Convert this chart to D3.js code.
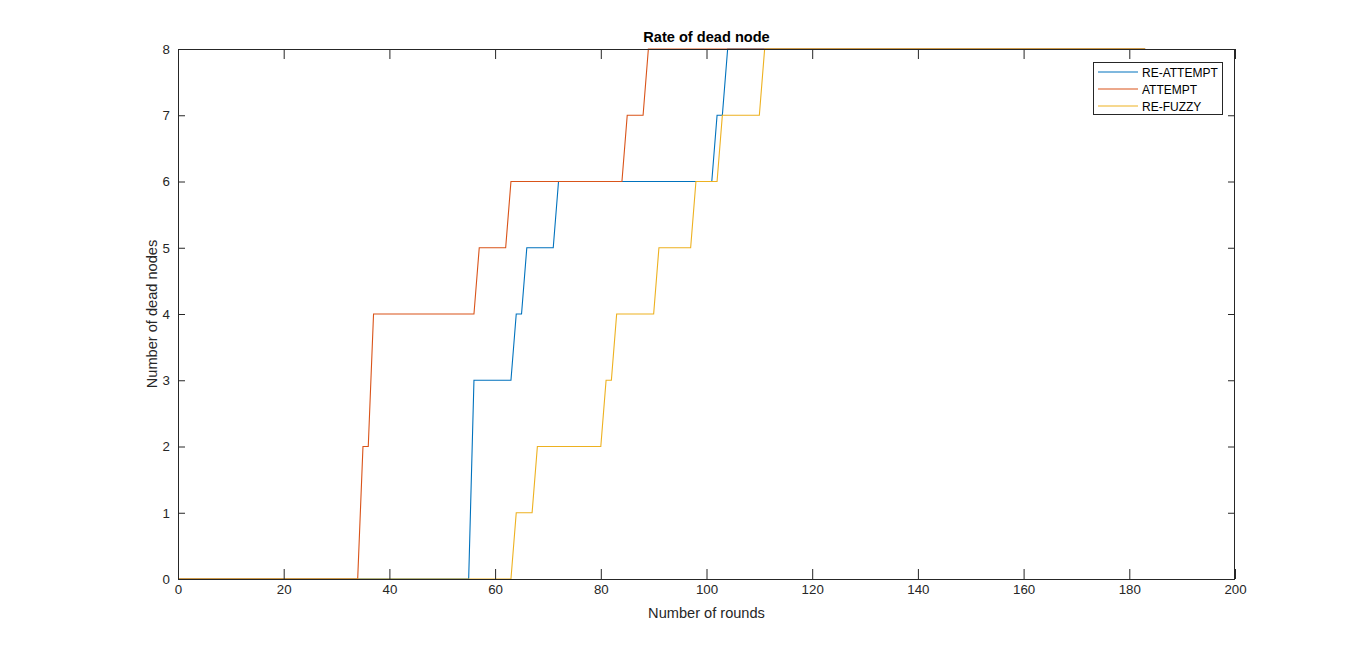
<!DOCTYPE html>
<html>
<head>
<meta charset="utf-8">
<script src="https://cdn.jsdelivr.net/npm/d3@7"></script>
<style>
  html, body { margin: 0; padding: 0; background: #fff; }
  svg { display: block; font-family: Arial, "Liberation Sans", Helvetica, sans-serif; }
</style>
</head>
<body>
<svg id="chart" width="1366" height="651"></svg>
<script>
// ---- Data (breakpoints of each step curve: round -> dead nodes) ----
const seriesNames = ["RE-ATTEMPT", "ATTEMPT", "RE-FUZZY"];
const reAttemptRounds = [0, 55, 56, 63, 64, 65, 66, 71, 72, 101, 102, 103, 104, 183];
const reAttemptValues = [0, 0, 3, 3, 4, 4, 5, 5, 6, 6, 7, 7, 8, 8];
const attemptRounds = [0, 34, 35, 36, 37, 56, 57, 62, 63, 84, 85, 88, 89, 183];
const attemptValues = [0, 0, 2, 2, 4, 4, 5, 5, 6, 6, 7, 7, 8, 8];
const reFuzzyRounds = [0, 63, 64, 67, 68, 80, 81, 82, 83, 90, 91, 97, 98, 102, 103, 110, 111, 183];
const reFuzzyValues = [0, 0, 1, 1, 2, 2, 3, 3, 4, 4, 5, 5, 6, 6, 7, 7, 8, 8];
const xTicks = [0, 20, 40, 60, 80, 100, 120, 140, 160, 180, 200];
const yTicks = [0, 1, 2, 3, 4, 5, 6, 7, 8];
const colors = ["#0072BD", "#D95319", "#EDB120"];

const series = [
  { name: seriesNames[0], pts: reAttemptRounds.map((r, i) => [r, reAttemptValues[i]]), color: colors[0] },
  { name: seriesNames[1], pts: attemptRounds.map((r, i) => [r, attemptValues[i]]), color: colors[1] },
  { name: seriesNames[2], pts: reFuzzyRounds.map((r, i) => [r, reFuzzyValues[i]]), color: colors[2] }
];

// ---- Layout ----
const L = 178, R = 1235, T = 49, B = 579;
const svg = d3.select("#chart");
const x = d3.scaleLinear().domain([0, 200]).range([L, R]);
const y = d3.scaleLinear().domain([0, 8]).range([B, T]);
const axisColor = "#262626";

// Lines (clipped to axes)
svg.append("clipPath").attr("id", "clip").append("rect")
  .attr("x", L).attr("y", T - 1).attr("width", R - L).attr("height", B - T + 2);
const line = d3.line().x(d => x(d[0])).y(d => y(d[1]));
const g = svg.append("g").attr("clip-path", "url(#clip)");
series.forEach(s => {
  g.append("path").datum(s.pts)
    .attr("d", line).attr("fill", "none")
    .attr("stroke", s.color).attr("stroke-width", 1.1);
});

// Axes
function styleAxis(sel) {
  sel.select(".domain").remove();
  sel.selectAll("line").attr("stroke", axisColor);
  sel.selectAll("text").attr("fill", axisColor).style("font-size", "13.3px");
}
svg.append("g").attr("transform", `translate(0,${B})`)
  .call(d3.axisBottom(x).tickValues(xTicks).tickSize(-10).tickPadding(6).tickFormat(d3.format("d")))
  .call(styleAxis);
svg.append("g").attr("transform", `translate(0,${T})`)
  .call(d3.axisTop(x).tickValues(xTicks).tickSize(-10).tickFormat(""))
  .call(styleAxis);
svg.append("g").attr("transform", `translate(${L},0)`)
  .call(d3.axisLeft(y).tickValues(yTicks).tickSize(-7).tickPadding(8).tickFormat(d3.format("d")))
  .call(styleAxis);
svg.append("g").attr("transform", `translate(${R},0)`)
  .call(d3.axisRight(y).tickValues(yTicks).tickSize(-7).tickFormat(""))
  .call(styleAxis);

// Box
svg.append("rect").attr("x", L + 0.5).attr("y", T + 0.5)
  .attr("width", R - L - 1).attr("height", B - T)
  .attr("fill", "none").attr("stroke", axisColor).attr("stroke-width", 1);

// Title and labels
svg.append("text").attr("x", (L + R) / 2).attr("y", 42)
  .attr("text-anchor", "middle").attr("font-weight", "bold")
  .style("font-size", "14.6px").attr("fill", "#000").text("Rate of dead node");
svg.append("text").attr("x", (L + R) / 2).attr("y", 618)
  .attr("text-anchor", "middle").style("font-size", "14.6px").attr("fill", axisColor)
  .text("Number of rounds");
svg.append("text").attr("transform", `translate(157,${(T + B) / 2}) rotate(-90)`)
  .attr("text-anchor", "middle").style("font-size", "14.6px").attr("fill", axisColor)
  .text("Number of dead nodes");

// Legend
const lg = svg.append("g");
lg.append("rect").attr("x", 1093.5).attr("y", 62.5).attr("width", 129).attr("height", 52)
  .attr("fill", "#fff").attr("stroke", axisColor).attr("stroke-width", 1);
series.forEach((s, i) => {
  const yy = 72 + i * 17;
  lg.append("line").attr("x1", 1098).attr("x2", 1138).attr("y1", yy).attr("y2", yy)
    .attr("stroke", s.color).attr("stroke-width", 1.1);
  lg.append("text").attr("x", 1142).attr("y", yy + 4.5)
    .style("font-size", "12px").attr("fill", "#000").text(s.name);
});
</script>
</body>
</html>
